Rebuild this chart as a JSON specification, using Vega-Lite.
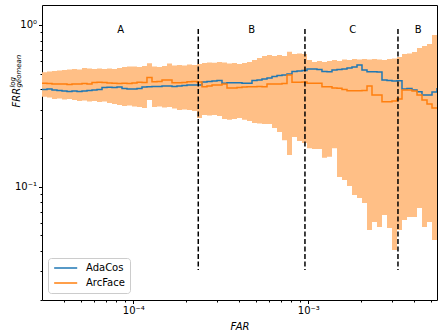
{
  "$schema": "https://vega.github.io/schema/vega-lite/v6.json",
  "width": 395,
  "height": 295,
  "autosize": {"type": "none"},
  "padding": {"left": 42, "top": 5, "right": 1, "bottom": 35},
  "background": "white",
  "config": {
    "view": {"stroke": "black", "strokeWidth": 1},
    "font": "DejaVu Sans",
    "axis": {
      "domain": false,
      "grid": false,
      "labelFont": "DejaVu Sans",
      "labelFontSize": 10,
      "labelColor": "black",
      "labelOverlap": false,
      "labelFlush": false,
      "tickColor": "black",
      "tickWidth": 1,
      "titleFont": "DejaVu Sans",
      "titleFontSize": 10,
      "titleFontWeight": "normal",
      "titleFontStyle": "italic",
      "titleColor": "black"
    }
  },
  "datasets": {
    "curves": [
      {"far": 3.008e-5, "AdaCos": 0.399, "ArcFace": 0.436, "lo": 0.360, "hi": 0.510},
      {"far": 3.213e-5, "AdaCos": 0.402, "ArcFace": 0.435, "lo": 0.356, "hi": 0.516},
      {"far": 3.431e-5, "AdaCos": 0.396, "ArcFace": 0.432, "lo": 0.349, "hi": 0.519},
      {"far": 3.664e-5, "AdaCos": 0.393, "ArcFace": 0.432, "lo": 0.351, "hi": 0.523},
      {"far": 3.914e-5, "AdaCos": 0.391, "ArcFace": 0.432, "lo": 0.346, "hi": 0.527},
      {"far": 4.180e-5, "AdaCos": 0.388, "ArcFace": 0.429, "lo": 0.349, "hi": 0.531},
      {"far": 4.464e-5, "AdaCos": 0.391, "ArcFace": 0.432, "lo": 0.344, "hi": 0.534},
      {"far": 4.768e-5, "AdaCos": 0.388, "ArcFace": 0.432, "lo": 0.339, "hi": 0.531},
      {"far": 5.092e-5, "AdaCos": 0.391, "ArcFace": 0.435, "lo": 0.341, "hi": 0.542},
      {"far": 5.438e-5, "AdaCos": 0.393, "ArcFace": 0.432, "lo": 0.336, "hi": 0.538},
      {"far": 5.808e-5, "AdaCos": 0.396, "ArcFace": 0.441, "lo": 0.339, "hi": 0.534},
      {"far": 6.203e-5, "AdaCos": 0.399, "ArcFace": 0.442, "lo": 0.334, "hi": 0.538},
      {"far": 6.625e-5, "AdaCos": 0.411, "ArcFace": 0.441, "lo": 0.336, "hi": 0.534},
      {"far": 7.075e-5, "AdaCos": 0.412, "ArcFace": 0.438, "lo": 0.329, "hi": 0.538},
      {"far": 7.556e-5, "AdaCos": 0.411, "ArcFace": 0.436, "lo": 0.325, "hi": 0.534},
      {"far": 8.070e-5, "AdaCos": 0.414, "ArcFace": 0.435, "lo": 0.320, "hi": 0.542},
      {"far": 8.619e-5, "AdaCos": 0.405, "ArcFace": 0.436, "lo": 0.316, "hi": 0.550},
      {"far": 9.205e-5, "AdaCos": 0.402, "ArcFace": 0.435, "lo": 0.318, "hi": 0.554},
      {"far": 9.831e-5, "AdaCos": 0.402, "ArcFace": 0.438, "lo": 0.313, "hi": 0.554},
      {"far": 1.050e-4, "AdaCos": 0.405, "ArcFace": 0.442, "lo": 0.311, "hi": 0.550},
      {"far": 1.121e-4, "AdaCos": 0.414, "ArcFace": 0.441, "lo": 0.307, "hi": 0.558},
      {"far": 1.197e-4, "AdaCos": 0.415, "ArcFace": 0.473, "lo": 0.344, "hi": 0.579},
      {"far": 1.279e-4, "AdaCos": 0.417, "ArcFace": 0.446, "lo": 0.311, "hi": 0.554},
      {"far": 1.366e-4, "AdaCos": 0.417, "ArcFace": 0.447, "lo": 0.313, "hi": 0.550},
      {"far": 1.459e-4, "AdaCos": 0.419, "ArcFace": 0.457, "lo": 0.309, "hi": 0.558},
      {"far": 1.558e-4, "AdaCos": 0.419, "ArcFace": 0.457, "lo": 0.311, "hi": 0.578},
      {"far": 1.664e-4, "AdaCos": 0.417, "ArcFace": 0.440, "lo": 0.305, "hi": 0.562},
      {"far": 1.777e-4, "AdaCos": 0.419, "ArcFace": 0.440, "lo": 0.298, "hi": 0.566},
      {"far": 1.898e-4, "AdaCos": 0.422, "ArcFace": 0.441, "lo": 0.300, "hi": 0.562},
      {"far": 2.027e-4, "AdaCos": 0.425, "ArcFace": 0.446, "lo": 0.298, "hi": 0.570},
      {"far": 2.165e-4, "AdaCos": 0.425, "ArcFace": 0.447, "lo": 0.294, "hi": 0.566},
      {"far": 2.312e-4, "AdaCos": 0.425, "ArcFace": 0.444, "lo": 0.266, "hi": 0.574},
      {"far": 2.469e-4, "AdaCos": 0.444, "ArcFace": 0.415, "lo": 0.278, "hi": 0.582},
      {"far": 2.637e-4, "AdaCos": 0.447, "ArcFace": 0.419, "lo": 0.276, "hi": 0.586},
      {"far": 2.817e-4, "AdaCos": 0.450, "ArcFace": 0.425, "lo": 0.278, "hi": 0.585},
      {"far": 3.008e-4, "AdaCos": 0.454, "ArcFace": 0.425, "lo": 0.274, "hi": 0.590},
      {"far": 3.213e-4, "AdaCos": 0.436, "ArcFace": 0.432, "lo": 0.262, "hi": 0.586},
      {"far": 3.431e-4, "AdaCos": 0.440, "ArcFace": 0.408, "lo": 0.259, "hi": 0.578},
      {"far": 3.664e-4, "AdaCos": 0.440, "ArcFace": 0.408, "lo": 0.262, "hi": 0.582},
      {"far": 3.914e-4, "AdaCos": 0.440, "ArcFace": 0.410, "lo": 0.266, "hi": 0.574},
      {"far": 4.180e-4, "AdaCos": 0.436, "ArcFace": 0.414, "lo": 0.259, "hi": 0.582},
      {"far": 4.464e-4, "AdaCos": 0.436, "ArcFace": 0.415, "lo": 0.255, "hi": 0.590},
      {"far": 4.768e-4, "AdaCos": 0.454, "ArcFace": 0.415, "lo": 0.248, "hi": 0.608},
      {"far": 5.092e-4, "AdaCos": 0.457, "ArcFace": 0.417, "lo": 0.246, "hi": 0.625},
      {"far": 5.438e-4, "AdaCos": 0.463, "ArcFace": 0.415, "lo": 0.244, "hi": 0.643},
      {"far": 5.808e-4, "AdaCos": 0.470, "ArcFace": 0.432, "lo": 0.244, "hi": 0.652},
      {"far": 6.203e-4, "AdaCos": 0.480, "ArcFace": 0.432, "lo": 0.231, "hi": 0.643},
      {"far": 6.625e-4, "AdaCos": 0.487, "ArcFace": 0.432, "lo": 0.218, "hi": 0.652},
      {"far": 7.075e-4, "AdaCos": 0.491, "ArcFace": 0.435, "lo": 0.194, "hi": 0.643},
      {"far": 7.556e-4, "AdaCos": 0.498, "ArcFace": 0.491, "lo": 0.157, "hi": 0.684},
      {"far": 8.070e-4, "AdaCos": 0.516, "ArcFace": 0.442, "lo": 0.203, "hi": 0.662},
      {"far": 8.619e-4, "AdaCos": 0.519, "ArcFace": 0.442, "lo": 0.192, "hi": 0.666},
      {"far": 9.205e-4, "AdaCos": 0.523, "ArcFace": 0.444, "lo": 0.186, "hi": 0.662},
      {"far": 9.831e-4, "AdaCos": 0.534, "ArcFace": 0.436, "lo": 0.173, "hi": 0.608},
      {"far": 1.050e-3, "AdaCos": 0.534, "ArcFace": 0.436, "lo": 0.171, "hi": 0.590},
      {"far": 1.121e-3, "AdaCos": 0.531, "ArcFace": 0.436, "lo": 0.171, "hi": 0.599},
      {"far": 1.197e-3, "AdaCos": 0.516, "ArcFace": 0.415, "lo": 0.151, "hi": 0.590},
      {"far": 1.279e-3, "AdaCos": 0.514, "ArcFace": 0.415, "lo": 0.153, "hi": 0.599},
      {"far": 1.366e-3, "AdaCos": 0.527, "ArcFace": 0.408, "lo": 0.173, "hi": 0.608},
      {"far": 1.459e-3, "AdaCos": 0.531, "ArcFace": 0.406, "lo": 0.115, "hi": 0.599},
      {"far": 1.558e-3, "AdaCos": 0.534, "ArcFace": 0.399, "lo": 0.110, "hi": 0.612},
      {"far": 1.664e-3, "AdaCos": 0.542, "ArcFace": 0.392, "lo": 0.101, "hi": 0.608},
      {"far": 1.777e-3, "AdaCos": 0.550, "ArcFace": 0.392, "lo": 0.0889, "hi": 0.616},
      {"far": 1.898e-3, "AdaCos": 0.566, "ArcFace": 0.392, "lo": 0.0851, "hi": 0.612},
      {"far": 2.027e-3, "AdaCos": 0.527, "ArcFace": 0.393, "lo": 0.0793, "hi": 0.616},
      {"far": 2.165e-3, "AdaCos": 0.514, "ArcFace": 0.419, "lo": 0.0540, "hi": 0.612},
      {"far": 2.312e-3, "AdaCos": 0.514, "ArcFace": 0.369, "lo": 0.0605, "hi": 0.616},
      {"far": 2.469e-3, "AdaCos": 0.512, "ArcFace": 0.369, "lo": 0.0563, "hi": 0.612},
      {"far": 2.637e-3, "AdaCos": 0.457, "ArcFace": 0.335, "lo": 0.0668, "hi": 0.608},
      {"far": 2.817e-3, "AdaCos": 0.454, "ArcFace": 0.335, "lo": 0.0555, "hi": 0.616},
      {"far": 3.008e-3, "AdaCos": 0.450, "ArcFace": 0.339, "lo": 0.0406, "hi": 0.621},
      {"far": 3.213e-3, "AdaCos": 0.452, "ArcFace": 0.349, "lo": 0.0540, "hi": 0.634},
      {"far": 3.431e-3, "AdaCos": 0.402, "ArcFace": 0.396, "lo": 0.0622, "hi": 0.662},
      {"far": 3.664e-3, "AdaCos": 0.405, "ArcFace": 0.396, "lo": 0.0650, "hi": 0.666},
      {"far": 3.914e-3, "AdaCos": 0.396, "ArcFace": 0.391, "lo": 0.0650, "hi": 0.681},
      {"far": 4.180e-3, "AdaCos": 0.387, "ArcFace": 0.369, "lo": 0.0738, "hi": 0.721},
      {"far": 4.464e-3, "AdaCos": 0.369, "ArcFace": 0.344, "lo": 0.0563, "hi": 0.742},
      {"far": 4.768e-3, "AdaCos": 0.369, "ArcFace": 0.325, "lo": 0.0605, "hi": 0.763},
      {"far": 5.092e-3, "AdaCos": 0.385, "ArcFace": 0.307, "lo": 0.0468, "hi": 0.867},
      {"far": 5.438e-3, "AdaCos": 0.408, "ArcFace": 0.307, "lo": 0.0455, "hi": 0.918}
    ],
    "boundaries": [
      {"far": 2.351e-4, "top": 0.945, "bottom": 0.0305},
      {"far": 9.57e-4, "top": 0.945, "bottom": 0.0305},
      {"far": 3.254e-3, "top": 0.945, "bottom": 0.0305}
    ],
    "zones": [
      {"far": 8.47e-5, "frr": 0.93, "zone": "A"},
      {"far": 4.75e-4, "frr": 0.93, "zone": "B"},
      {"far": 1.794e-3, "frr": 0.93, "zone": "C"},
      {"far": 4.25e-3, "frr": 0.93, "zone": "B"}
    ],
    "ylabel": [
      {"far": 3.008e-5, "frr": 0.41}
    ]
  },
  "layer": [
    {
      "data": {"name": "curves"},
      "mark": {"type": "area", "interpolate": "step-after", "color": "#ffbf86", "clip": true},
      "encoding": {
        "x": {
          "field": "far",
          "type": "quantitative",
          "scale": {"type": "log", "domain": [3.008e-5, 5.438e-3], "nice": false},
          "axis": {
            "title": "FAR",
            "titlePadding": 6,
            "labelPadding": 2,
            "values": [4e-5, 5e-5, 6e-5, 7e-5, 8e-5, 9e-5, 0.0001, 2e-4, 3e-4, 4e-4, 5e-4, 6e-4, 7e-4, 8e-4, 9e-4, 0.001, 2e-3, 3e-3, 4e-3, 5e-3],
            "labelExpr": "datum.value == 0.0001 ? '10⁻⁴' : datum.value == 0.001 ? '10⁻³' : ''",
            "tickSize": {"condition": {"test": "datum.value == 0.0001 || datum.value == 0.001", "value": 3.5}, "value": 2}
          }
        },
        "y": {
          "field": "lo",
          "type": "quantitative",
          "scale": {"type": "log", "domain": [0.01993, 1.329], "nice": false},
          "axis": {
            "title": "FRR",
            "titleAngle": 270,
            "titleAlign": "left",
            "titleBaseline": "alphabetic",
            "titleX": -23,
            "titleY": 102,
            "labelPadding": 2,
            "values": [0.02, 0.03, 0.04, 0.05, 0.06, 0.07, 0.08, 0.09, 0.1, 0.2, 0.3, 0.4, 0.5, 0.6, 0.7, 0.8, 0.9, 1],
            "labelExpr": "datum.value == 1 ? '10⁰' : datum.value == 0.1 ? '10⁻¹' : ''",
            "tickSize": {"condition": {"test": "datum.value == 1 || datum.value == 0.1", "value": 3.5}, "value": 2}
          }
        },
        "y2": {"field": "hi"}
      }
    },
    {
      "data": {"name": "curves"},
      "transform": [{"fold": ["AdaCos", "ArcFace"], "as": ["model", "frr"]}],
      "mark": {"type": "line", "interpolate": "step-after", "strokeWidth": 1.5, "clip": true},
      "encoding": {
        "x": {"field": "far", "type": "quantitative"},
        "y": {"field": "frr", "type": "quantitative"},
        "color": {
          "field": "model",
          "type": "nominal",
          "scale": {"domain": ["AdaCos", "ArcFace"], "range": ["#1f77b4", "#ff7f0e"]},
          "legend": {
            "title": null,
            "orient": "none",
            "legendX": 6,
            "legendY": 253,
            "symbolType": "M-1,0H5",
            "symbolSize": 59,
            "symbolStrokeWidth": 1.5,
            "labelFont": "DejaVu Sans",
            "labelFontSize": 10,
            "labelColor": "black",
            "labelOffset": 23,
            "padding": 5,
            "rowPadding": 5,
            "fillColor": "white",
            "strokeColor": "#cccccc",
            "cornerRadius": 3
          }
        }
      }
    },
    {
      "data": {"name": "boundaries"},
      "mark": {"type": "rule", "color": "black", "strokeWidth": 1.5, "strokeDash": [5, 2.5]},
      "encoding": {
        "x": {"field": "far", "type": "quantitative"},
        "y": {"field": "top", "type": "quantitative"},
        "y2": {"field": "bottom"}
      }
    },
    {
      "data": {"name": "zones"},
      "mark": {"type": "text", "font": "DejaVu Sans", "fontSize": 10, "color": "black", "baseline": "middle", "align": "center"},
      "encoding": {
        "x": {"field": "far", "type": "quantitative"},
        "y": {"field": "frr", "type": "quantitative"},
        "text": {"field": "zone"}
      }
    },
    {
      "data": {"name": "ylabel"},
      "mark": {"type": "text", "text": "log", "font": "DejaVu Sans", "fontSize": 7, "fontStyle": "italic", "angle": 270, "align": "left", "baseline": "alphabetic", "dy": -27, "color": "black"},
      "encoding": {
        "x": {"field": "far", "type": "quantitative"},
        "y": {"field": "frr", "type": "quantitative"}
      }
    },
    {
      "data": {"name": "ylabel"},
      "mark": {"type": "text", "text": "geomean", "font": "DejaVu Sans", "fontSize": 7, "fontStyle": "italic", "angle": 270, "align": "left", "baseline": "alphabetic", "dy": -21, "color": "black"},
      "encoding": {
        "x": {"field": "far", "type": "quantitative"},
        "y": {"field": "frr", "type": "quantitative"}
      }
    }
  ]
}
